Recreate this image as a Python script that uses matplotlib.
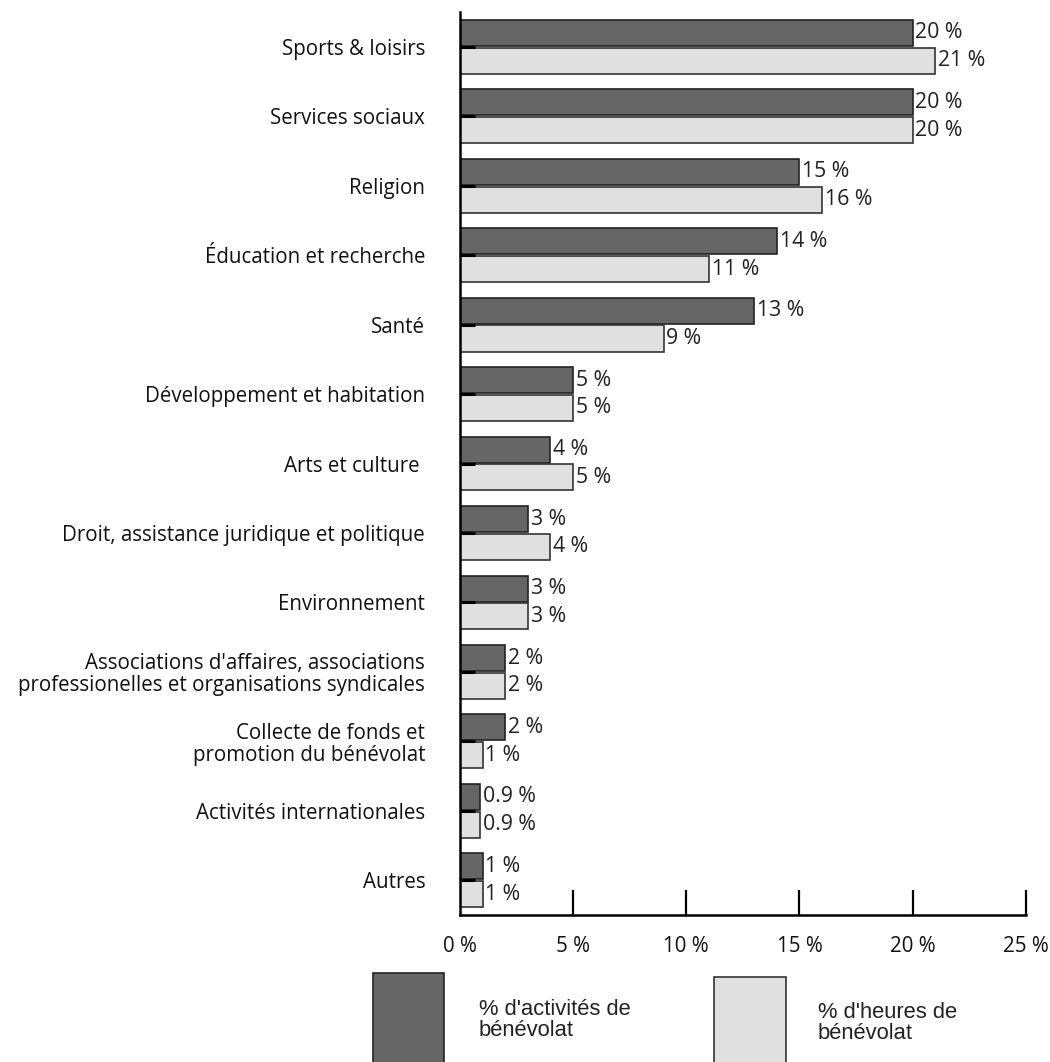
import matplotlib.pyplot as plt
from matplotlib.patches import Rectangle
import numpy as np

plt.rcParams['font.family'] = ['Open Sans', 'DejaVu Sans']

categories = ["Sports & loisirs", "Services sociaux", "Religion",
              "Éducation et recherche", "Santé", "Développement et habitation",
              "Arts et culture ", "Droit, assistance juridique et politique",
              "Environnement",
              "Associations d'affaires, associations\nprofessionelles et organisations syndicales",
              "Collecte de fonds et\npromotion du bénévolat",
              "Activités internationales", "Autres"]
activites = [20, 20, 15, 14, 13, 5, 4, 3, 3, 2, 2, 0.9, 1]
heures = [21, 20, 16, 11, 9, 5, 5, 4, 3, 2, 1, 0.9, 1]
xticks = [0, 5, 10, 15, 20, 25]

dark = '#666666'
light = '#e0e0e0'
fs = 14.8

fig = plt.figure(figsize=(10.5, 10.62), dpi=100)
ax = fig.add_axes([0.438, 0.1384, 0.539, 0.8503])

y = np.arange(len(categories))
h = 0.375
b1 = ax.barh(y - 0.2, activites, height=h, color=dark, edgecolor='#222222', linewidth=1.2)
b2 = ax.barh(y + 0.2, heures, height=h, color=light, edgecolor='#333333', linewidth=1.2)

for bars, vals in [(b1, activites), (b2, heures)]:
    for bar, v in zip(bars, vals):
        ax.text(v + 0.12, bar.get_y() + bar.get_height() / 2, f"{v:g} %",
                va='center', ha='left', fontsize=fs + 0.5, color='#222222')

ax.set_ylim(12.5, -0.5)
ax.set_xlim(0, 25)
ax.set_yticks(y)
ax.set_yticklabels(categories, fontsize=fs, color='#111111', ha='right',
                   multialignment='right', linespacing=1.05)
ax.set_xticks(xticks)
ax.set_xticklabels([f"{t} %" for t in xticks], fontsize=fs, color='#111111')

ax.tick_params(axis='y', direction='in', length=11, width=2.2, pad=25, color='black')
ax.tick_params(axis='x', direction='in', length=18, width=1.6, pad=15, color='black')
ax.xaxis.get_major_ticks()[0].tick1line.set_visible(False)

for s in ['top', 'right']:
    ax.spines[s].set_visible(False)
ax.spines['left'].set_linewidth(1.8)
ax.spines['bottom'].set_linewidth(1.8)
ax.set_zorder(1)

# legend boxes along the bottom edge
fig.patches.append(Rectangle((373 / 1050, -0.01), 71 / 1050, 89 / 1062 + 0.01,
                             transform=fig.transFigure, facecolor=dark,
                             edgecolor='#222222', linewidth=1.2))
fig.patches.append(Rectangle((714 / 1050, -0.01), 72 / 1050, 85 / 1062 + 0.01,
                             transform=fig.transFigure, facecolor=light,
                             edgecolor='#333333', linewidth=1.2))
fig.text(479 / 1050, 1 - 1020 / 1062, "% d'activités de\nbénévolat", fontsize=15.8,
         family=['Liberation Sans', 'DejaVu Sans'], va='center', ha='left',
         linespacing=1.05, color='#222222')
fig.text(818 / 1050, 1 - 1023 / 1062, "% d'heures de\nbénévolat", fontsize=15.8,
         family=['Liberation Sans', 'DejaVu Sans'], va='center', ha='left',
         linespacing=1.05, color='#222222')

fig.savefig('out.png', dpi=100)
